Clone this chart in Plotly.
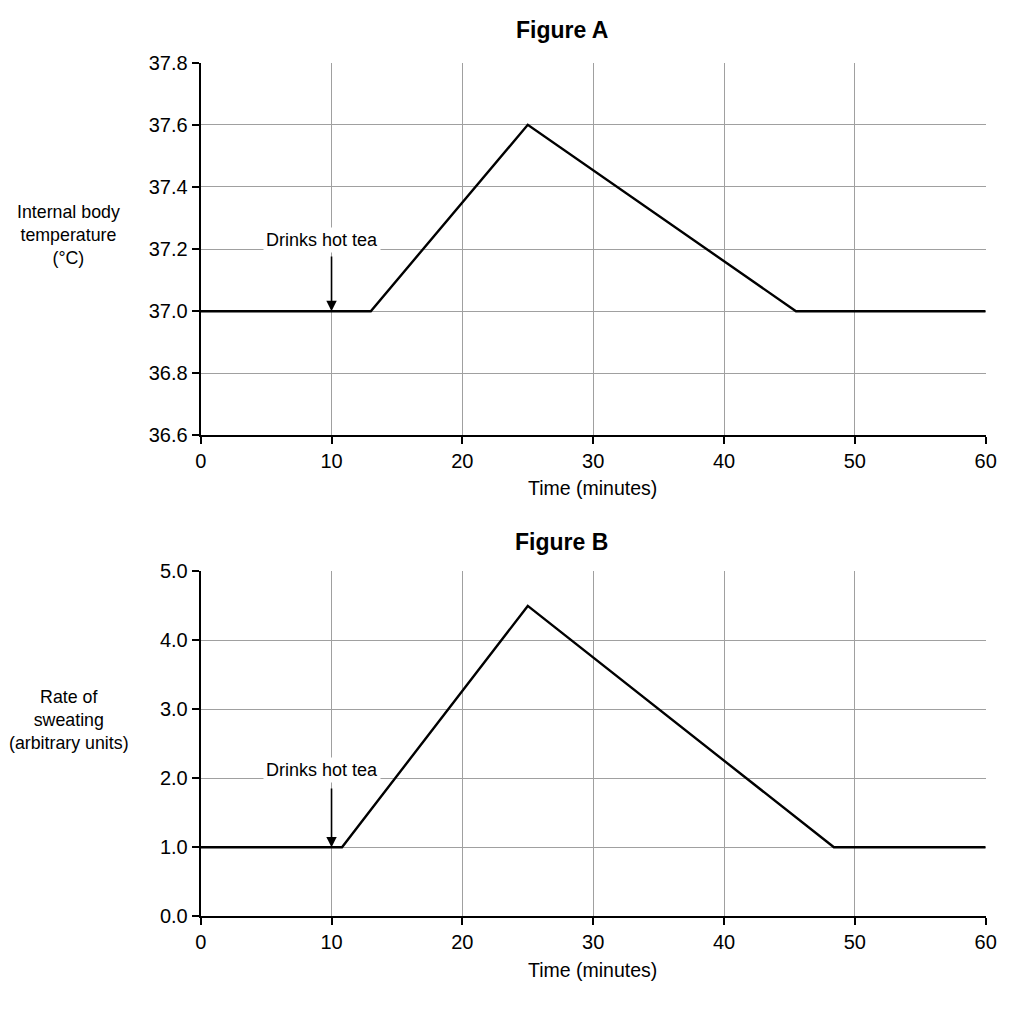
import plotly.graph_objects as go

# ---- data ----
time_a = [0, 13, 25, 45.5, 60]
temp_a = [37.0, 37.0, 37.6, 37.0, 37.0]
time_b = [0, 10.8, 25, 48.4, 60]
sweat_b = [1.0, 1.0, 4.5, 1.0, 1.0]
drink_time = 10
x_ticks = [0, 10, 20, 30, 40, 50, 60]
y_ticks_a = [36.6, 36.8, 37.0, 37.2, 37.4, 37.6, 37.8]
y_ticks_b = [0.0, 1.0, 2.0, 3.0, 4.0, 5.0]
title_a = "Figure A"
title_b = "Figure B"
ylabel_a = "Internal body<br>temperature<br>(°C)"
ylabel_b = "Rate of<br>sweating<br>(arbitrary units)"
xlabel = "Time (minutes)"
note = "Drinks hot tea"

FONT = "Liberation Sans, Arial, sans-serif"
W = H = 1024
SX, OX = 0.9834, 5.3
SY, OY = 0.979, 11.3

def fx(r):
    return (r - OX) / SX / W

def fy(r):
    return 1 - (r - OY) / SY / H

fig = go.Figure()
fig.add_trace(go.Scatter(x=time_a, y=temp_a, mode="lines",
                         line=dict(color="black", width=2.4),
                         xaxis="x", yaxis="y", showlegend=False))
fig.add_trace(go.Scatter(x=time_b, y=sweat_b, mode="lines",
                         line=dict(color="black", width=2.4),
                         xaxis="x2", yaxis="y2", showlegend=False))

xdom = [fx(200), fx(985)]
common_x = dict(range=[0, 60], tickvals=x_ticks, showgrid=True, gridcolor="#a0a0a0",
                gridwidth=1, showline=True, linecolor="black", linewidth=2,
                ticks="outside", ticklen=7, tickcolor="black", tickwidth=1.5,
                zeroline=False, tickfont=dict(family=FONT, size=20, color="black"),
                domain=xdom, fixedrange=True)
common_y = dict(showgrid=True, gridcolor="#a0a0a0", gridwidth=1, showline=True,
                linecolor="black", linewidth=2, ticks="outside", ticklen=7,
                tickcolor="black", tickwidth=1.5, zeroline=False, tickformat=".1f",
                tickfont=dict(family=FONT, size=20, color="black"), fixedrange=True)

fig.update_layout(
    width=W, height=H, margin=dict(l=0, r=0, t=0, b=0),
    paper_bgcolor="white", plot_bgcolor="white",
    xaxis=dict(**common_x, anchor="y"),
    yaxis=dict(**common_y, range=[36.6, 37.8], tickvals=y_ticks_a,
               domain=[fy(436), fy(63)], anchor="x"),
    xaxis2=dict(**common_x, anchor="y2"),
    yaxis2=dict(**common_y, range=[0, 5], tickvals=y_ticks_b,
                domain=[fy(917), fy(572)], anchor="x2"),
)

anns = []
# titles
for t, ypx in [(title_a, 30), (title_b, 543)]:
    anns.append(dict(text=t, x=fx(561), y=fy(ypx), xref="paper", yref="paper",
                     showarrow=False, xanchor="center", yanchor="middle",
                     font=dict(family=FONT, size=23, color="black", weight="bold")))
# x labels
for ypx in [489, 971]:
    anns.append(dict(text=xlabel, x=fx(592), y=fy(ypx), xref="paper", yref="paper",
                     showarrow=False, xanchor="center", yanchor="middle",
                     font=dict(family=FONT, size=19.5, color="black")))
# y labels
for t, ypx in [(ylabel_a, 235), (ylabel_b, 721)]:
    anns.append(dict(text=t, x=fx(68), y=fy(ypx), xref="paper", yref="paper",
                     showarrow=False, xanchor="center", yanchor="middle", align="center",
                     font=dict(family=FONT, size=17.8, color="black")))
# arrows and notes
for xr, yr, yv, ay, ysh in [("x", "y", temp_a[0], -55, 70), ("x2", "y2", sweat_b[0], -59, 76)]:
    anns.append(dict(text="", x=drink_time, y=yv, xref=xr, yref=yr, showarrow=True,
                     ax=0, ay=ay / SY, arrowhead=2, arrowsize=1.3, arrowwidth=1.6,
                     arrowcolor="black", standoff=0))
    anns.append(dict(text=note, x=drink_time, y=yv, xref=xr, yref=yr, showarrow=False,
                     xshift=-10, yshift=ysh / SY, bgcolor="white", borderpad=2,
                     font=dict(family=FONT, size=18, color="black")))
fig.update_layout(annotations=anns)

fig.write_html("out.html",
               config={"displayModeBar": False},
               post_script="document.body.style.margin='0';document.body.style.overflow='hidden';")
